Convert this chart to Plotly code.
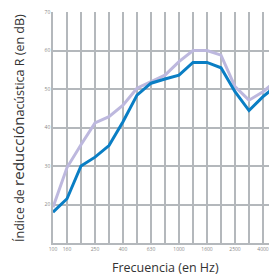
import plotly.graph_objects as go

positions = list(range(17))
tick_pos = [0, 1, 3, 5, 7, 9, 11, 13, 15]
tick_labels = ["100", "160", "250", "400", "630", "1000", "1600", "2500", "4000"]
blue_vals = [18, 21.5, 30, 32.3, 35.3, 41.5, 48.4, 51.5, 52.6, 53.6, 56.9, 56.9, 55.5, 49.3, 44.4, 48, 51]
lav_vals = [19.3, 29.6, 35.5, 41.2, 42.8, 45.8, 50.2, 51.9, 53.6, 57.1, 60, 60, 58.8, 50.6, 47.1, 49.3, 52.3]
y_ticks = [20, 30, 40, 50, 60, 70]

tickvals = positions
ticktext = [tick_labels[tick_pos.index(p)] if p in tick_pos else "" for p in positions]

fig = go.Figure()
fig.add_trace(go.Scatter(x=positions, y=lav_vals, mode="lines",
                         line=dict(color="#bdb8de", width=3), showlegend=False))
fig.add_trace(go.Scatter(x=positions, y=blue_vals, mode="lines",
                         line=dict(color="#0a7ec4", width=3), showlegend=False))

fig.update_layout(
    width=277, height=275,
    margin=dict(l=45, r=8, t=4, b=40),
    paper_bgcolor="white", plot_bgcolor="white",
    font=dict(family="Open Sans", color="#333"),
    xaxis=dict(range=[0, 16], tickvals=tickvals, ticktext=ticktext, automargin=False,
               showgrid=True, gridcolor="#b4b8bc", gridwidth=1.5,
               zeroline=False, showline=True, linecolor="#b4b8bc", linewidth=1.5,
               tickfont=dict(size=5, color="#888"), ticks="", ticklen=0),
    yaxis=dict(range=[10, 70], tickvals=y_ticks, automargin=False,
               showgrid=True, gridcolor="#b4b8bc", gridwidth=1.5,
               zeroline=False, showline=True, linecolor="#b4b8bc", linewidth=1.5,
               tickfont=dict(size=5, color="#888"), ticks=""),
    annotations=[
        dict(text="Frecuencia (en Hz)", xref="paper", yref="paper", x=0.5, y=-0.108,
             xanchor="center", yanchor="middle", showarrow=False,
             font=dict(size=12.5, color="#333")),
        dict(text='Índice de <span style="font-size:15px">reducción</span>acústica R (en dB)',
             xref="paper", yref="paper", x=-0.156, y=0.498, textangle=-90,
             xanchor="center", yanchor="middle", showarrow=False,
             font=dict(size=12.5, color="#333")),
    ],
)

fig.write_html("out.html")
